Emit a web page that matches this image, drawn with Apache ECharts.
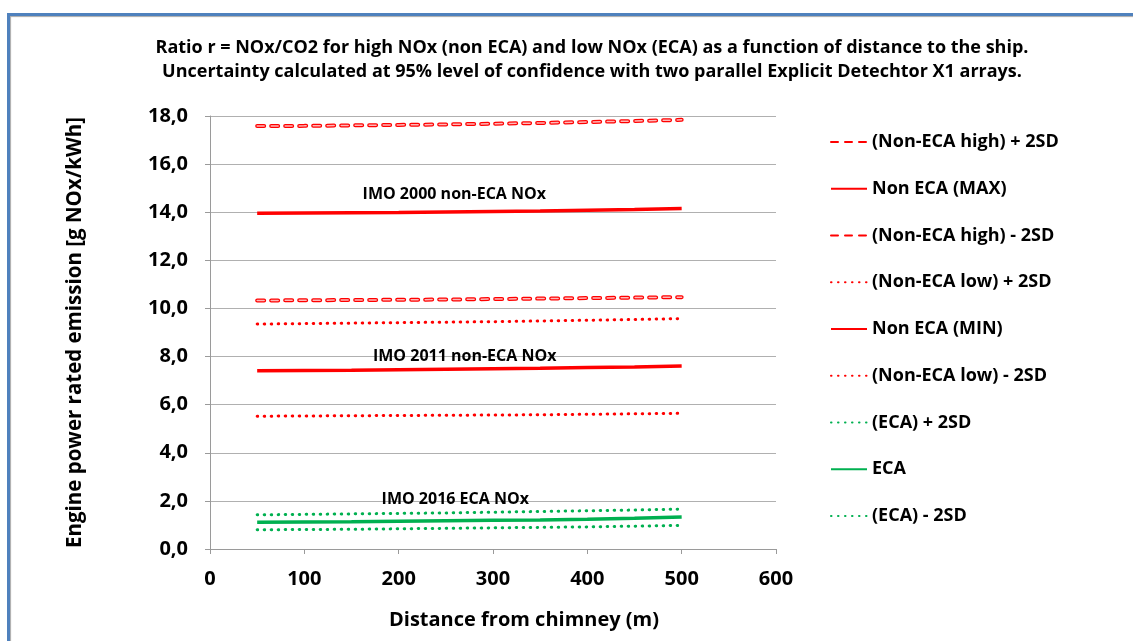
<!DOCTYPE html>
<html><head><meta charset="utf-8">
<script src="https://cdn.jsdelivr.net/npm/echarts@6/dist/echarts.min.js"></script>
<style>
html,body{margin:0;padding:0;background:#fff;overflow:hidden;}
#frame{position:absolute;left:7px;top:13px;width:1200px;height:700px;border:3px solid #4F81BD;box-shadow:1px 1px 1px #aaa inset;}
#chart{position:absolute;left:0;top:0;width:1133px;height:641px;}
</style></head>
<body><div id="frame"></div><div id="chart"></div>
<script>
const distances = [50,100,150,200,250,300,350,400,450,500];
const nonEcaHighPlus = [17.58,17.59,17.61,17.63,17.65,17.68,17.71,17.75,17.79,17.84];
const nonEcaMax      = [13.96,13.97,13.98,13.99,14.01,14.03,14.05,14.08,14.11,14.15];
const nonEcaHighMinus= [10.33,10.34,10.35,10.36,10.37,10.39,10.41,10.43,10.45,10.47];
const nonEcaLowPlus  = [9.35,9.37,9.39,9.41,9.43,9.45,9.48,9.51,9.54,9.58];
const nonEcaMin      = [7.41,7.42,7.43,7.45,7.47,7.49,7.51,7.54,7.57,7.61];
const nonEcaLowMinus = [5.52,5.53,5.54,5.55,5.56,5.57,5.58,5.60,5.62,5.64];
const ecaPlus        = [1.42,1.44,1.46,1.48,1.50,1.53,1.56,1.59,1.62,1.66];
const eca            = [1.11,1.12,1.13,1.15,1.17,1.19,1.21,1.24,1.28,1.33];
const ecaMinus       = [0.80,0.81,0.82,0.84,0.86,0.88,0.90,0.92,0.95,0.98];
const seriesNames = ['(Non-ECA high) + 2SD','Non ECA (MAX)','(Non-ECA high) - 2SD','(Non-ECA low) + 2SD','Non ECA (MIN)','(Non-ECA low) - 2SD','(ECA) + 2SD','ECA','(ECA) - 2SD'];
const annotations = [
  {text:'IMO 2000 non-ECA NOx', x:259, y:14.76},
  {text:'IMO 2011 non-ECA NOx', x:270, y:8.02},
  {text:'IMO 2016 ECA NOx', x:260, y:2.04}
];
const titleLines = ['Ratio r = NOx/CO2 for high NOx (non ECA) and low NOx (ECA) as a function of distance to the ship.','Uncertainty calculated at 95% level of confidence with two parallel Explicit Detechtor X1 arrays.'];

const RED='#FF0000', GREEN='#00B050';
const FONT='"Open Sans", "Noto Sans", sans-serif';
const pts = arr => distances.map((d,i)=>[d,arr[i]]);
function solid(name,data,color,ann){
  const s={name,type:'line',data:pts(data),symbol:'none',smooth:false,z:3,
    lineStyle:{color,width:3.5,type:'solid'},itemStyle:{color}};
  if(ann){s.markPoint={symbol:'circle',symbolSize:1,itemStyle:{color:'rgba(0,0,0,0)'},
    label:{show:true,position:'inside',formatter:'{b}',color:'#000',fontFamily:FONT,fontWeight:'bold',fontSize:16},
    data:[{name:ann.text,coord:[ann.x,ann.y]}]};}
  return s;
}
function dotted(name,data,color){
  return {name,type:'line',data:pts(data),symbol:'none',z:3,
    lineStyle:{color,width:3,type:[0.5,6.5],cap:'round'},itemStyle:{color}};
}
function dashedOuter(name,data){
  return {name,type:'line',data:pts(data),symbol:'none',z:3,
    lineStyle:{color:RED,width:4,type:[7,7],cap:'round'},itemStyle:{color:RED}};
}
function dashedInner(name,data){
  return {name,type:'line',data:pts(data),symbol:'none',z:4,silent:true,
    lineStyle:{color:'#FFB8B8',width:1.5,type:[7,7],cap:'round'},itemStyle:{color:'#FFB8B8'}};
}
const series=[
  dashedOuter(seriesNames[0],nonEcaHighPlus), dashedInner('_in1',nonEcaHighPlus),
  solid(seriesNames[1],nonEcaMax,RED,annotations[0]),
  dashedOuter(seriesNames[2],nonEcaHighMinus), dashedInner('_in2',nonEcaHighMinus),
  dotted(seriesNames[3],nonEcaLowPlus,RED),
  solid(seriesNames[4],nonEcaMin,RED,annotations[1]),
  dotted(seriesNames[5],nonEcaLowMinus,RED),
  dotted(seriesNames[6],ecaPlus,GREEN),
  solid(seriesNames[7],eca,GREEN,annotations[2]),
  dotted(seriesNames[8],ecaMinus,GREEN)
];
const chart=echarts.init(document.getElementById('chart'),null,{renderer:'canvas'});
chart.setOption({
  animation:false,
  backgroundColor:'transparent',
  title:{text:titleLines.join('\n'),left:587,textAlign:'center',top:31,
    textStyle:{fontFamily:FONT,fontWeight:'bold',fontSize:18,lineHeight:24,color:'#000'}},
  grid:{left:210,right:357,top:116,bottom:92,containLabel:false},
  legend:{data:seriesNames,orient:'vertical',left:825,top:128,itemWidth:36,itemHeight:14,itemGap:28.75,
    itemStyle:{opacity:0,borderWidth:0},
    textStyle:{fontFamily:FONT,fontWeight:'bold',fontSize:18,color:'#000'}},
  xAxis:{type:'value',min:0,max:600,interval:100,
    name:'Distance from chimney (m)',nameLocation:'middle',nameGap:61,
    nameTextStyle:{fontFamily:FONT,fontWeight:'bold',fontSize:20,color:'#000',padding:[0,0,0,62]},
    axisLine:{show:true,lineStyle:{color:'#9a9a9a',width:1}},
    axisTick:{show:true,length:5,lineStyle:{color:'#9a9a9a'}},
    axisLabel:{fontFamily:FONT,fontWeight:'bold',fontSize:20,color:'#000',margin:20},
    splitLine:{show:false}},
  yAxis:{type:'value',min:0,max:18,interval:2,
    name:'Engine power rated emission [g NOx/kWh]',nameLocation:'middle',nameGap:124,nameRotate:90,
    nameTextStyle:{fontFamily:FONT,fontWeight:'bold',fontSize:20.5,color:'#000'},
    axisLine:{show:true,lineStyle:{color:'#9a9a9a',width:1}},
    axisTick:{show:true,length:5,lineStyle:{color:'#9a9a9a'}},
    axisLabel:{fontFamily:FONT,fontWeight:'bold',fontSize:20,color:'#000',margin:22,
      formatter:v=>v.toFixed(1).replace('.',',')},
    splitLine:{show:true,lineStyle:{color:'#b0b0b0',width:1}}},
  series
});
</script></body></html>
